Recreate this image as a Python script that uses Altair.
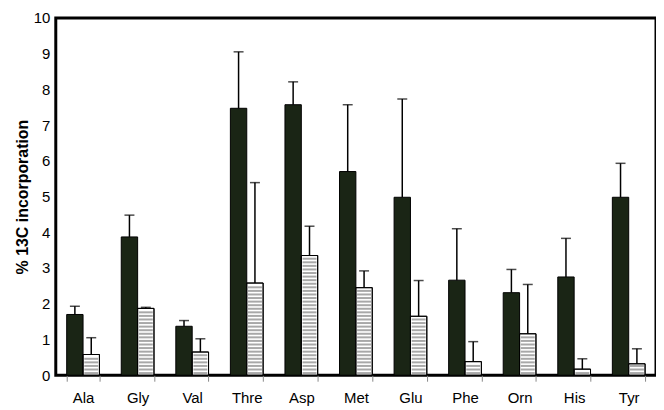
import altair as alt
import pandas as pd
import numpy as np

amino = ["Ala", "Gly", "Val", "Thre", "Asp", "Met", "Glu", "Phe", "Orn", "His", "Tyr"]
dark = [1.70, 3.87, 1.37, 7.47, 7.57, 5.70, 4.98, 2.66, 2.31, 2.75, 4.98]
dark_top = [1.93, 4.48, 1.53, 9.05, 8.21, 7.57, 7.73, 4.10, 2.96, 3.83, 5.93]
hatch = [0.58, 1.87, 0.65, 2.58, 3.35, 2.45, 1.65, 0.38, 1.16, 0.17, 0.32]
hatch_top = [1.05, 1.90, 1.02, 5.39, 4.17, 2.92, 2.65, 0.94, 2.54, 0.46, 0.74]
y_ticks = [0, 1, 2, 3, 4, 5, 6, 7, 8, 9, 10]

rows = []
for i, a in enumerate(amino):
    rows.append({"amino": a, "series": "A", "value": dark[i], "top": dark_top[i]})
    rows.append({"amino": a, "series": "B", "value": hatch[i], "top": hatch_top[i]})
df = pd.DataFrame(rows)

# horizontal stripe positions inside the hatched bars (decoration only)
stripes = []
for i, a in enumerate(amino):
    for y in np.arange(0.06, hatch[i] - 0.04, 0.1):
        stripes.append({"amino": a, "series": "B", "y": float(y)})
sdf = pd.DataFrame(stripes)

FONT = "Liberation Sans"

x_axis = alt.Axis(labelAngle=0, labelFontSize=15, labelColor="black", labelFont=FONT,
                  tickBand="extent", tickColor="#888888", tickSize=6, domain=False,
                  labelPadding=9)
y_axis = alt.Axis(values=y_ticks, grid=False, domain=False, ticks=False,
                  labelOverlap=False, labelFontSize=15, labelColor="black",
                  labelFont=FONT, labelPadding=6,
                  titleFont=FONT, titleFontSize=16, titleFontWeight="bold",
                  titleColor="black", titlePadding=3)
x_scale = alt.Scale(paddingInner=0.4, paddingOuter=0.2)
y_scale = alt.Scale(domain=[0, 10], nice=False)
Y_TITLE = "% 13C incorporation"


def X():
    return alt.X("amino:N", sort=amino, title=None, scale=x_scale, axis=x_axis)


def XO():
    return alt.XOffset("series:N", sort=["A", "B"])


def Y(field):
    return alt.Y(field, title=Y_TITLE, scale=y_scale, axis=y_axis)


bars = alt.Chart(df).mark_bar(stroke="black", strokeWidth=1).encode(
    x=X(), xOffset=XO(), y=Y("value:Q"),
    fill=alt.Fill("series:N", scale=alt.Scale(domain=["A", "B"], range=["#1a2515", "#ffffff"]),
                  legend=None),
)

stripe_marks = alt.Chart(sdf).mark_tick(color="#a8a8a8", thickness=2, size=14, opacity=1).encode(
    x=X(), xOffset=XO(), y=Y("y:Q"),
)

outline = alt.Chart(df).transform_filter(alt.datum.series == "B").mark_bar(
    fillOpacity=0, stroke="black", strokeWidth=1).encode(
    x=X(), xOffset=XO(), y=Y("value:Q"),
)

err = alt.Chart(df).mark_rule(color="black", strokeWidth=1.5).encode(
    x=X(), xOffset=XO(), y=Y("value:Q"), y2="top:Q",
)
caps = alt.Chart(df).mark_tick(color="black", thickness=1.5, size=10).encode(
    x=X(), xOffset=XO(), y=Y("top:Q"),
)

chart = alt.layer(bars, stripe_marks, outline, err, caps).properties(
    width=603, height=359, autosize="none",
    padding={"left": 48, "top": 9, "right": 0, "bottom": 33},
    background="white",
).configure_view(stroke="black", strokeWidth=3)

chart.save("out.html", embed_options={"renderer": "svg", "actions": False})
